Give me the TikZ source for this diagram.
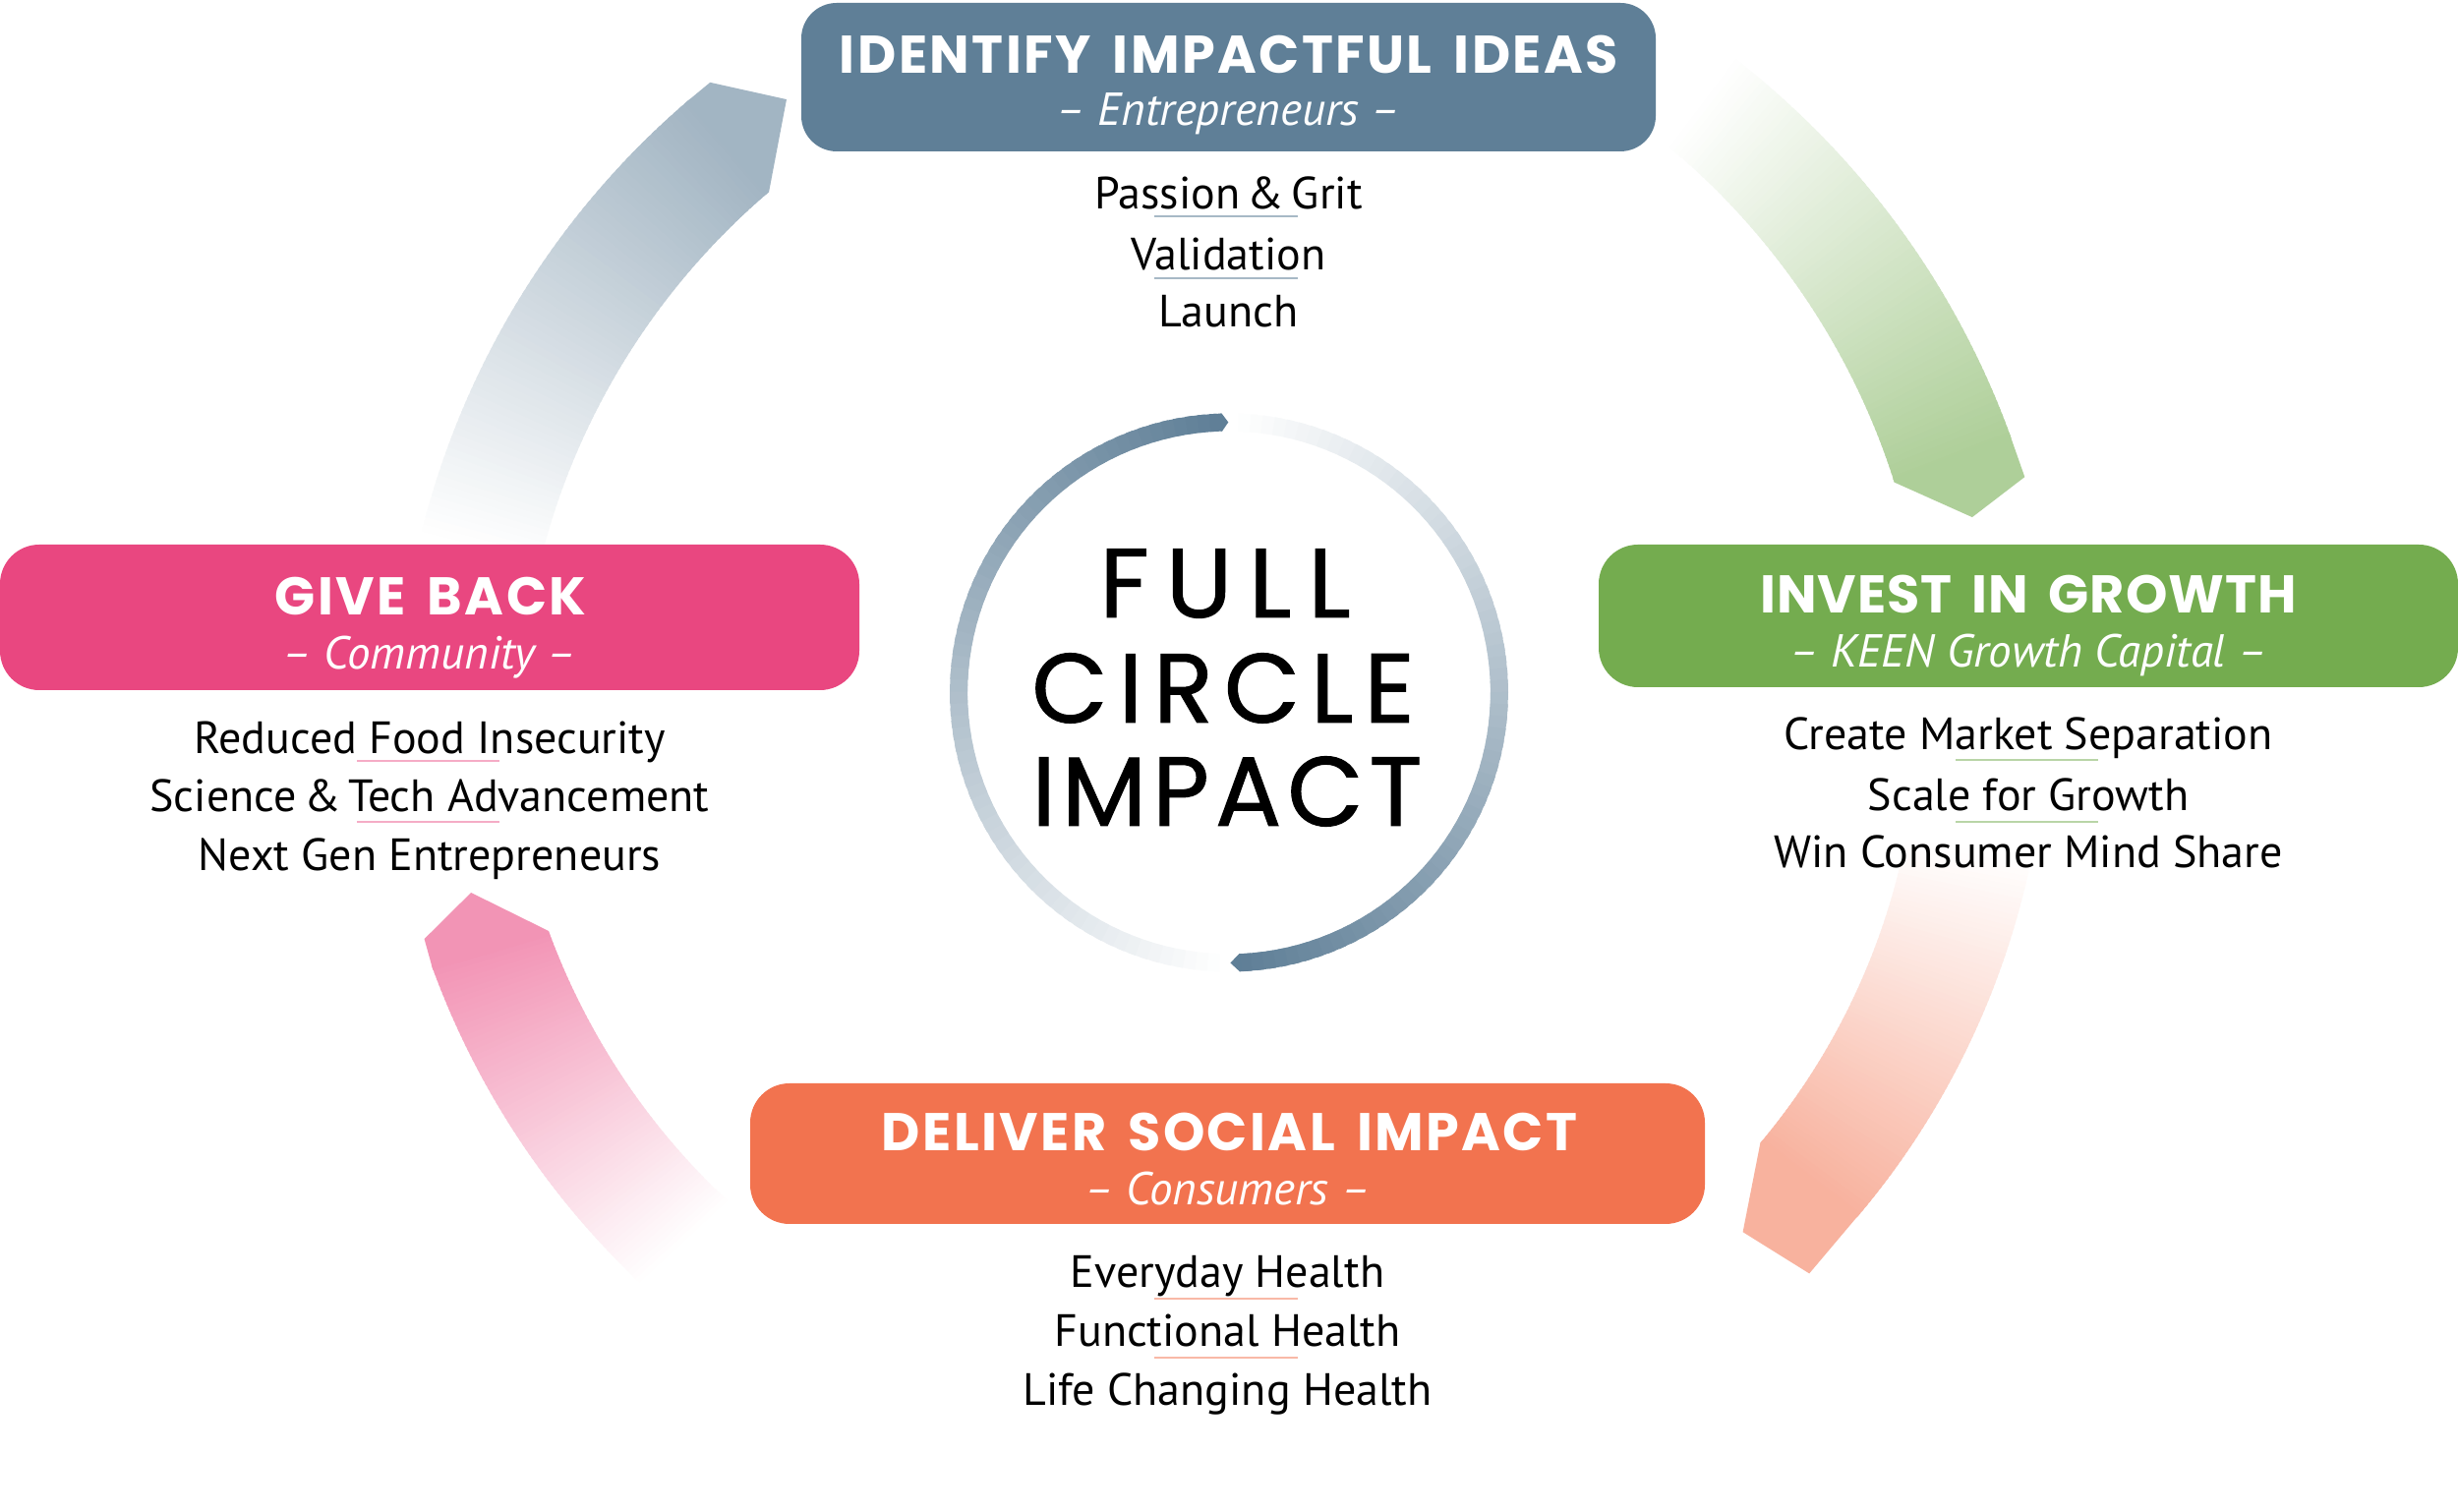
\documentclass[tikz,border=0pt]{standalone}
\usepackage{fontspec}
\setmainfont{PT Sans}
\newfontfamily\titlefont{Poppins}[LetterSpace=4.5, WordSpace=1.6]
\newfontfamily\circfont{Poppins}[FakeBold=1]
\definecolor{blueC}{RGB}{95,127,151}
\definecolor{greenC}{RGB}{116,172,79}
\definecolor{pinkC}{RGB}{233,71,128}
\definecolor{orangeC}{RGB}{242,115,79}
% gradient band: #1 colour, #2 max percent, #3 tail angle, #4 end angle,
% #5 r-in tail, #6 r-out tail, #7 r-in end, #8 r-out end
\newcommand\gband[8]{%
  \foreach \i in {0,...,69}{%
    \pgfmathsetmacro\ta{\i/70}%
    \pgfmathsetmacro\tb{min((\i+1.6)/70,1)}%
    \pgfmathsetmacro\aa{#3+(#4-#3)*\ta}%
    \pgfmathsetmacro\ab{#3+(#4-#3)*\tb}%
    \pgfmathsetmacro\ria{#5+(#7-#5)*\ta}%
    \pgfmathsetmacro\roa{#6+(#8-#6)*\ta}%
    \pgfmathsetmacro\rib{#5+(#7-#5)*\tb}%
    \pgfmathsetmacro\rob{#6+(#8-#6)*\tb}%
    \pgfmathsetmacro\pc{#2*(\i+0.75)/70}%
    \fill[fill=#1!\pc!white] (\aa:\ria) -- (\aa:\roa) -- (\ab:\rob) -- (\ab:\rib) -- cycle;
  }}
\tikzset{
  stagebox/.style={rectangle, rounded corners=40, inner sep=0, draw=none},
  ttl/.style={anchor=base, text=white, inner sep=0, font=\titlefont\bfseries\fontsize{54}{60}\selectfont},
  subt/.style={anchor=base, text=white, inner sep=0, font=\itshape\fontsize{47}{52}\selectfont},
  bodytxt/.style={anchor=base, text=black, inner sep=0, font=\fontsize{46}{52}\selectfont},
  sepline/.style={line width=2},
  ctr/.style={anchor=base, text=black, inner sep=0, font=\circfont\fontsize{100}{110}\selectfont}
}
\begin{document}
\begin{tikzpicture}[x=1pt,y=1pt]
\useasboundingbox (0,0) rectangle (2500,1538);
\fill[white] (0,0) rectangle (2500,1538);

% ---- big outer arrows ----
\begin{scope}[shift={(1250,793)}]
  % top-left (blue-grey)
  \gband{blueC}{58}{166}{130.4}{722}{846}{722}{846}
  \fill[blueC!58!white] (130.7:722) -- (130.4:722) -- (124.95:785.6) -- (128.6:846) -- (130.7:846) -- cycle;
  % top-right (green)
  \gband{greenC}{58}{53}{20.6}{745}{857}{723}{850}
  \fill[greenC!58!white] (20.9:723) -- (20.6:723) -- (16.15:787) -- (17.8:850) -- (20.9:850) -- cycle;
  % bottom-right (orange)
  \gband{orangeC}{55}{-9}{-37.7}{697}{826}{683}{807}
  \fill[orangeC!55!white] (-37.4:683) -- (-37.7:683) -- (-44.2:729) -- (-43.0:807) -- (-37.4:807) -- cycle;
  % bottom-left (pink)
  \gband{pinkC}{58}{223}{196.27}{698}{820}{721}{845}
  \fill[pinkC!58!white] (196.6:721) -- (196.27:721) -- (191.94:788) -- (194.4:845) -- (196.6:845) -- cycle;
\end{scope}

% ---- central ring ----
\begin{scope}[shift={(1250,833.5)}]
  \gband{blueC}{100}{268}{91.5}{266}{284}{266}{284}
  \fill[blueC] (91.8:266) -- (91.5:266) -- (90.15:275) -- (91.5:284) -- (91.8:284) -- cycle;
  \gband{blueC}{100}{88}{-87.8}{266}{284}{266}{284}
  \fill[blueC] (-87.5:266) -- (-87.8:266) -- (-89.7:275) -- (-87.8:284) -- (-87.5:284) -- cycle;
\end{scope}
\node[ctr] (c1) at (1246,910) {\addfontfeature{LetterSpace=17}FULL};
\node[ctr] (c2) at (1244,803) {\addfontfeature{LetterSpace=11}CIRCLE};
\node[ctr] (c3) at (1248,698) {\addfontfeature{LetterSpace=6}IMPACT};

% ---- top box ----
\node[stagebox, fill=blueC, minimum width=869, minimum height=151, rounded corners=36] (bt) at (1249.5,1459.5) {};
\node[ttl] (bt1) at (1250,1463) {IDENTIFY IMPACTFUL IDEAS};
\node[subt] (bt2) at (1249.5,1410) {– Entrepreneurs –};
\node[bodytxt] (lt1) at (1249.5,1325) {Passion\,\&\,Grit};
\node[bodytxt] (lt2) at (1249.5,1263) {Validation};
\node[bodytxt] (lt3) at (1249.5,1205) {Launch};
\draw[sepline, blueC!55!white] (1174,1318) -- (1320,1318);
\draw[sepline, blueC!55!white] (1174,1255) -- (1320,1255);

% ---- left box ----
\node[stagebox, fill=pinkC, minimum width=874, minimum height=148] (bl) at (437,910) {};
\node[ttl] (bl1) at (438,912) {GIVE BACK};
\node[subt] (bl2) at (437,857) {– Community –};
\node[bodytxt] (ll1) at (437,771.5) {Reduced Food Insecurity};
\node[bodytxt] (ll2) at (437,712) {Science\,\&\,Tech Advancement};
\node[bodytxt] (ll3) at (437,652) {Next Gen Entrepreneurs};
\draw[sepline, pinkC!45!white] (363,764) -- (508,764);
\draw[sepline, pinkC!45!white] (363,702) -- (508,702);

% ---- right box ----
\node[stagebox, fill=greenC, minimum width=874, minimum height=145] (br) at (2063,911.5) {};
\node[ttl] (br1) at (2063,914) {\addfontfeature{LetterSpace=2}INVEST IN GROWTH};
\node[subt] (br2) at (2063,859) {– KEEN Growth Capital –};
\node[bodytxt] (lr1) at (2063,775) {Create Market Separation};
\node[bodytxt] (lr2) at (2063,713.5) {Scale for Growth};
\node[bodytxt] (lr3) at (2063,655) {Win Consumer Mind Share};
\draw[sepline, greenC!50!white] (1989,765) -- (2134,765);
\draw[sepline, greenC!50!white] (1989,702) -- (2134,702);

% ---- bottom box ----
\node[stagebox, fill=orangeC, minimum width=971, minimum height=143] (bb) at (1248.5,364.5) {};
\node[ttl] (bb1) at (1250.5,367) {DELIVER SOCIAL IMPACT};
\node[subt] (bb2) at (1248.5,312) {– Consumers –};
\node[bodytxt] (lb1) at (1248.5,228) {Everyday Health};
\node[bodytxt] (lb2) at (1248.5,168) {Functional Health};
\node[bodytxt] (lb3) at (1248.5,108) {Life Changing Health};
\draw[sepline, orangeC!50!white] (1174,217) -- (1320,217);
\draw[sepline, orangeC!50!white] (1174,157) -- (1320,157);
\end{tikzpicture}
\end{document}
